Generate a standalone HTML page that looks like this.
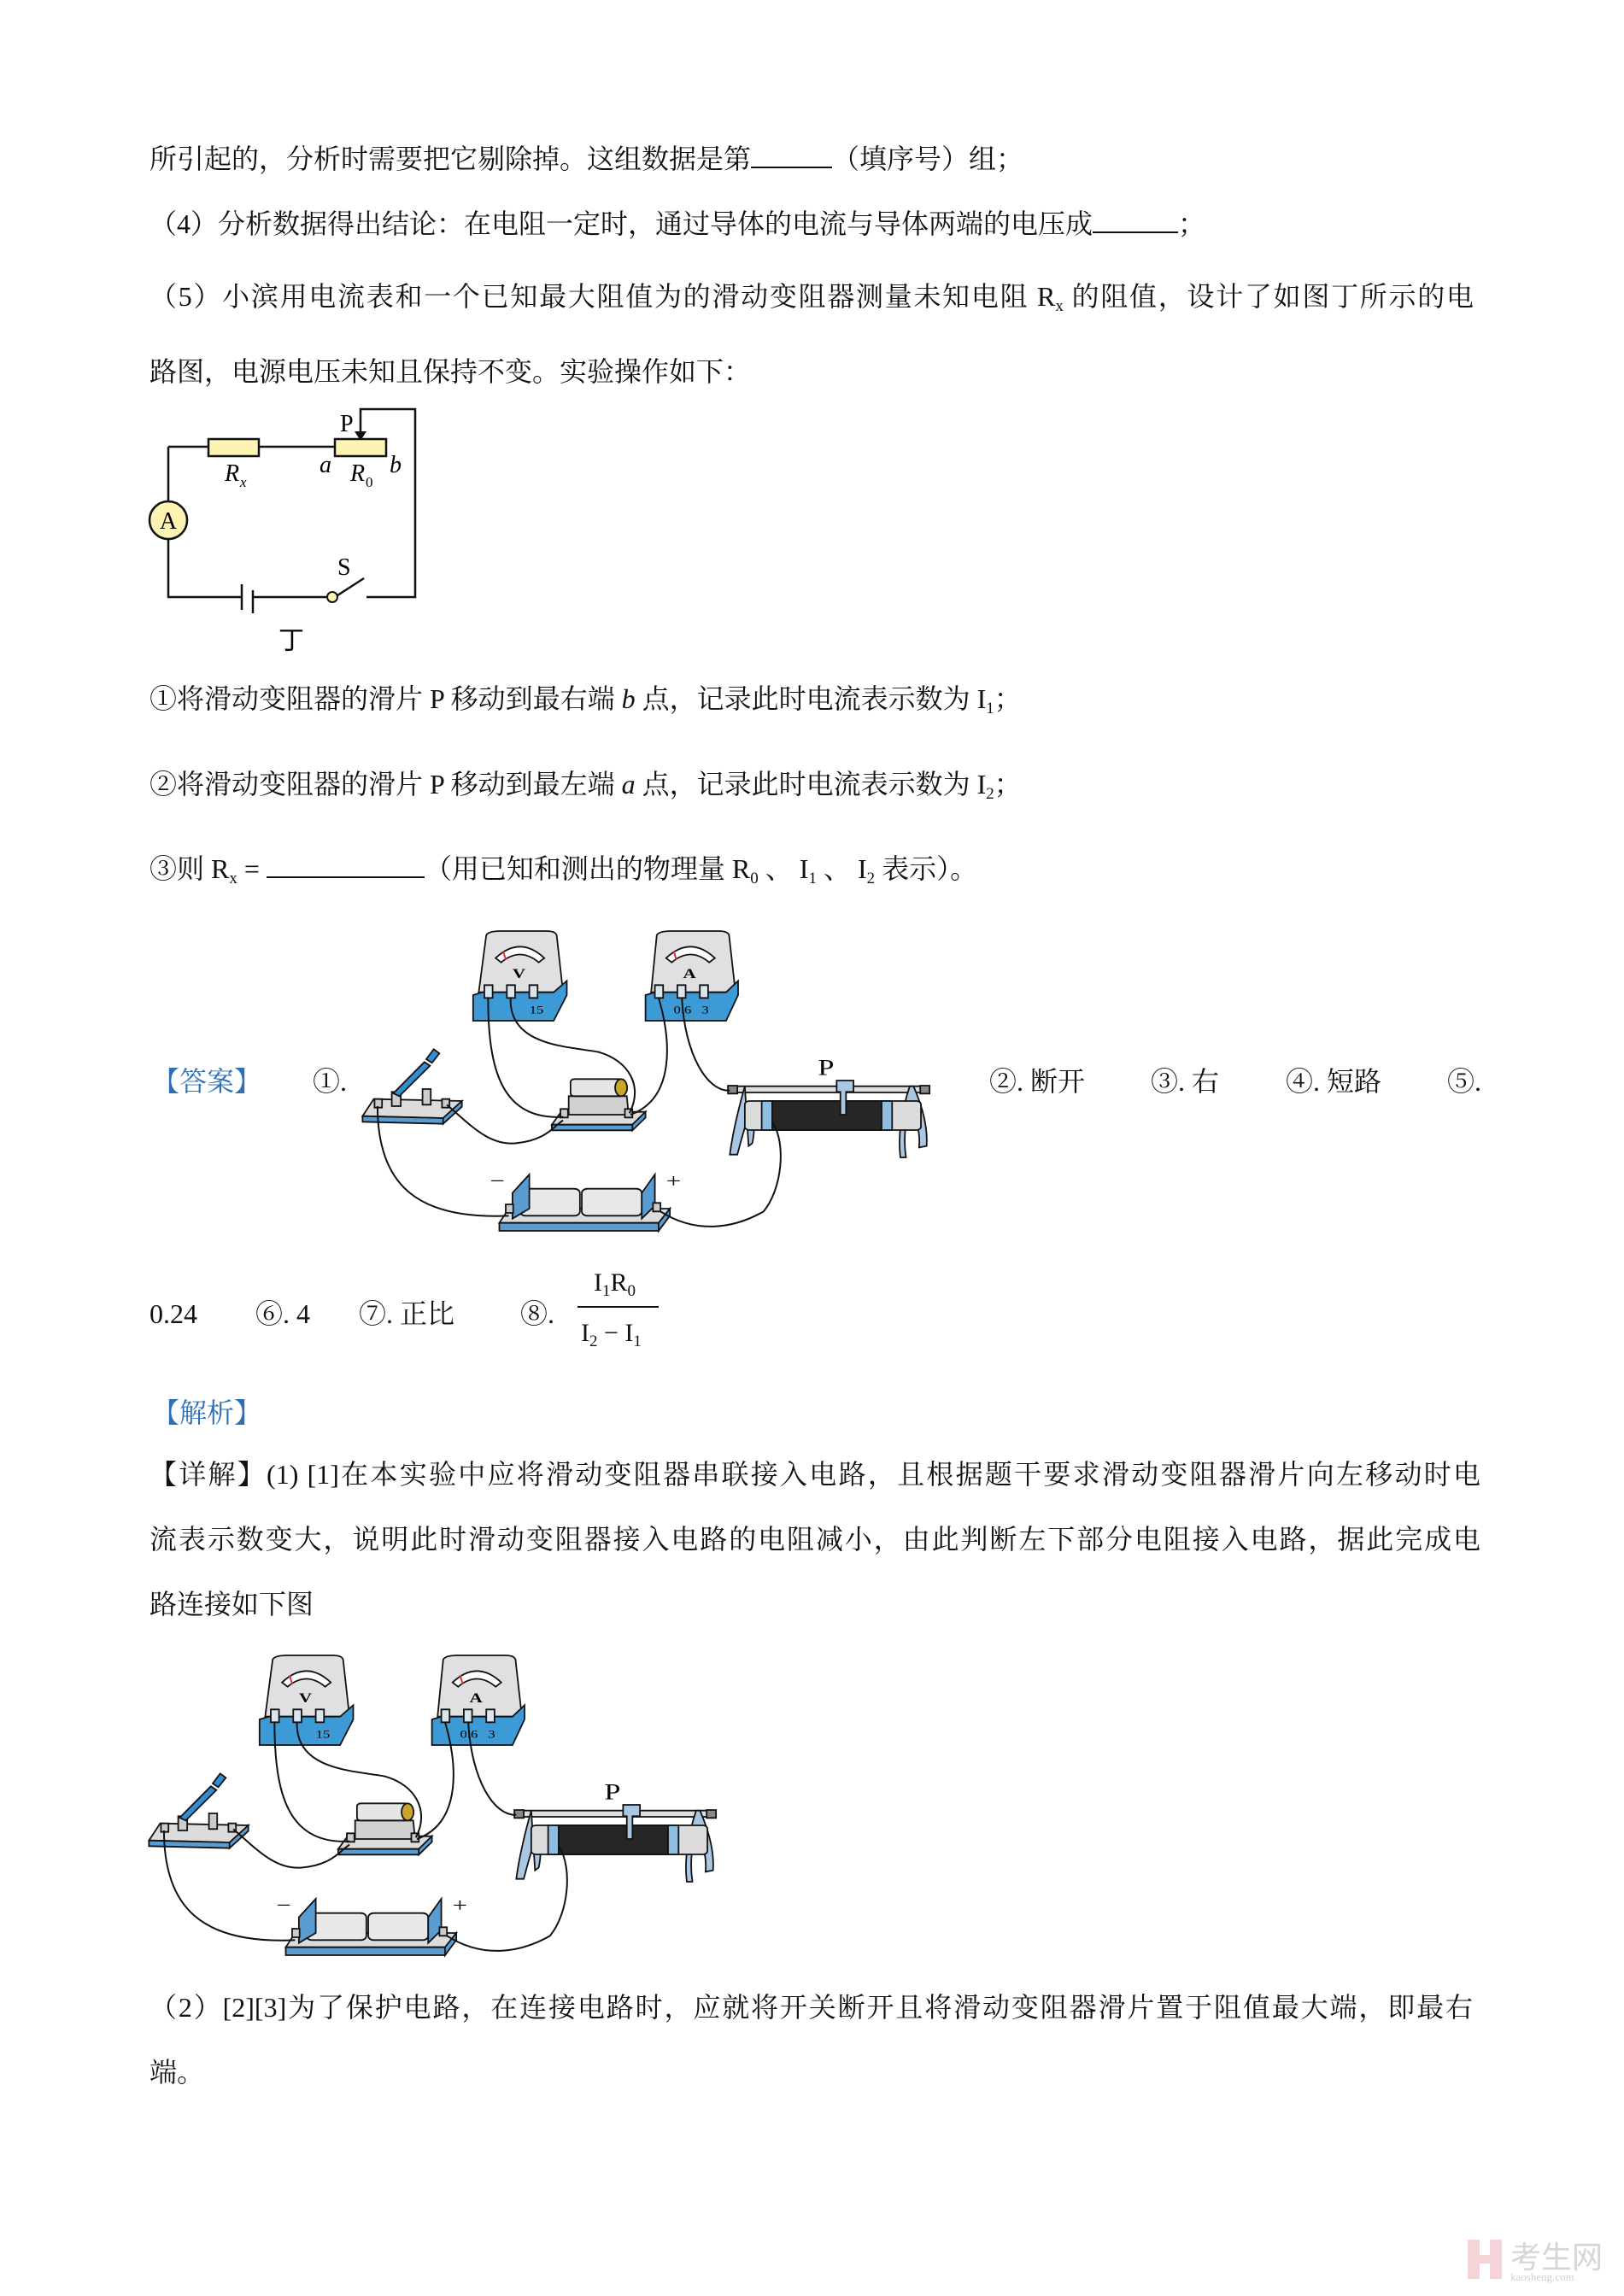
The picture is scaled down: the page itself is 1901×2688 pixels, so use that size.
<!DOCTYPE html>
<html><head><meta charset="utf-8">
<style>
html,body{margin:0;padding:0;background:#fff}
body{width:1901px;height:2688px;position:relative;overflow:hidden;font-family:"Liberation Serif","Noto Serif CJK SC",serif;color:#111}
.l{position:absolute;left:175px;font-size:32px;line-height:40px;white-space:nowrap}
.j{text-align:justify;text-align-last:justify;white-space:normal}
.u{display:inline-block;border-bottom:2px solid #111;height:30px;vertical-align:baseline}
.b{color:#2e6fb5}
sub{font-size:19px;vertical-align:-6px}
i{font-style:italic}
svg text{font-family:"Liberation Serif",serif}
</style></head><body>

<div class="l" style="top:165px">所引起的，分析时需要把它剔除掉。这组数据是第<span class="u" style="width:95px"></span>（填序号）组；</div>
<div class="l" style="top:241px">（4）分析数据得出结论：在电阻一定时，通过导体的电流与导体两端的电压成<span class="u" style="width:100px"></span>；</div>
<div class="l j" style="top:327px;width:1550px">（5）小滨用电流表和一个已知最大阻值为的滑动变阻器测量未知电阻 R<sub>x</sub> 的阻值，设计了如图丁所示的电</div>
<div class="l" style="top:415px">路图，电源电压未知且保持不变。实验操作如下：</div>

<div class="l" style="top:798px">①将滑动变阻器的滑片 P 移动到最右端 <i>b</i> 点，记录此时电流表示数为 I<sub>1</sub>；</div>
<div class="l" style="top:898px">②将滑动变阻器的滑片 P 移动到最左端 <i>a</i> 点，记录此时电流表示数为 I<sub>2</sub>；</div>
<div class="l" style="top:996px">③则 R<sub>x</sub> = <span class="u" style="width:185px"></span>（用已知和测出的物理量 R<sub>0</sub> 、 I<sub>1</sub> 、 I<sub>2</sub> 表示）。</div>

<div class="l b" style="top:1246px;left:178px">【答案】</div>
<div class="l" style="top:1246px;left:366px">①.</div>
<div class="l" style="top:1246px;left:1158px">②. 断开</div>
<div class="l" style="top:1246px;left:1347px">③. 右</div>
<div class="l" style="top:1246px;left:1505px">④. 短路</div>
<div class="l" style="top:1246px;left:1694px">⑤.</div>

<div class="l" style="top:1518px">0.24</div>
<div class="l" style="top:1518px;left:299px">⑥. 4</div>
<div class="l" style="top:1518px;left:420px">⑦. 正比</div>
<div class="l" style="top:1518px;left:609px">⑧.</div>
<div class="l" style="top:1482px;left:695px;font-size:30px">I<sub>1</sub>R<sub>0</sub></div>
<div class="l" style="top:1541px;left:680px;font-size:30px">I<sub>2</sub> − I<sub>1</sub></div>
<div style="position:absolute;left:676px;top:1529px;width:95px;height:2px;background:#111"></div>

<div class="l b" style="top:1634px;left:178px">【解析】</div>
<div class="l j" style="top:1706px;width:1558px">【详解】(1) [1]在本实验中应将滑动变阻器串联接入电路，且根据题干要求滑动变阻器滑片向左移动时电</div>
<div class="l j" style="top:1782px;width:1558px">流表示数变大，说明此时滑动变阻器接入电路的电阻减小，由此判断左下部分电阻接入电路，据此完成电</div>
<div class="l" style="top:1858px">路连接如下图</div>
<div class="l j" style="top:2330px;width:1549px">（2）[2][3]为了保护电路，在连接电路时，应就将开关断开且将滑动变阻器滑片置于阻值最大端，即最右</div>
<div class="l" style="top:2406px">端。</div>

<svg style="position:absolute;left:0;top:0" width="1901" height="2688">
<g stroke="#111" stroke-width="2.5" fill="none">
<path d="M197,523 V587 M197,631 V699 H283 M296,699 H382 M429,699 H486 V479 H422 V512"/>
<path d="M197,523 H244 M303,523 H392"/>
<path d="M283,684 V714 M296,691 V718"/>
<path d="M392,699 L426,677"/>
</g>
<path d="M415,505 L422,516 L429,505 Z" fill="#111"/>
<rect x="244" y="514" width="59" height="20" fill="#fdf3b2" stroke="#111" stroke-width="2.5"/>
<rect x="392" y="514" width="60" height="20" fill="#fdf3b2" stroke="#111" stroke-width="2.5"/>
<ellipse cx="197" cy="609" rx="22" ry="22" fill="#fdf3b2" stroke="#111" stroke-width="2.5"/>
<circle cx="389" cy="699" r="6" fill="#fdf3b2" stroke="#111" stroke-width="2"/>
<text x="197" y="619" font-size="28" text-anchor="middle">A</text>
<text x="398" y="505" font-size="28">P</text>
<text x="263" y="563" font-size="28" font-style="italic">R</text><text x="281" y="570" font-size="17" font-style="italic">x</text>
<text x="374" y="553" font-size="28" font-style="italic">a</text>
<text x="410" y="563" font-size="28" font-style="italic">R</text><text x="428" y="570" font-size="17">0</text>
<text x="456" y="553" font-size="28" font-style="italic">b</text>
<text x="395" y="673" font-size="28">S</text>
<text x="326" y="760" font-size="30" font-family="Noto Serif CJK SC">丁</text>

<defs>
<g id="app">
<g stroke="#111" stroke-width="1.8" vector-effect="non-scaling-stroke">
<path d="M340,30 Q345,15 380,15 L500,15 Q525,15 528,30 L545,230 L320,230 Z" fill="#e0e0e2" vector-effect="non-scaling-stroke"/>
<path d="M365,110 Q430,30 495,110 L480,125 Q430,70 380,125 Z" fill="#fff" vector-effect="non-scaling-stroke"/>
<path d="M305,240 L330,230 L520,230 L555,190 L555,240 L520,330 L305,330 Z" fill="#3c9bd6" vector-effect="non-scaling-stroke"/>
<path d="M795,30 Q800,15 835,15 L960,15 Q985,15 988,30 L1005,230 L780,230 Z" fill="#e0e0e2" vector-effect="non-scaling-stroke"/>
<path d="M820,110 Q885,30 950,110 L935,125 Q885,70 835,125 Z" fill="#fff" vector-effect="non-scaling-stroke"/>
<path d="M765,240 L790,230 L980,230 L1012,190 L1012,240 L980,330 L765,330 Z" fill="#3c9bd6" vector-effect="non-scaling-stroke"/>
<g fill="#d9e6ef">
<rect x="335" y="205" width="22" height="45" vector-effect="non-scaling-stroke"/><rect x="395" y="205" width="22" height="45" vector-effect="non-scaling-stroke"/><rect x="455" y="205" width="22" height="45" vector-effect="non-scaling-stroke"/>
<rect x="790" y="205" width="22" height="45" vector-effect="non-scaling-stroke"/><rect x="850" y="205" width="22" height="45" vector-effect="non-scaling-stroke"/><rect x="910" y="205" width="22" height="45" vector-effect="non-scaling-stroke"/>
</g>
<path d="M40,605 L275,612 L225,672 L10,665 Z" fill="#dcdcdc" vector-effect="non-scaling-stroke"/>
<path d="M10,665 L225,672 L225,692 L10,685 Z M225,672 L275,612 L275,632 L225,692 Z" fill="#5a9bd0" vector-effect="non-scaling-stroke"/>
<rect x="88" y="580" width="24" height="50" fill="#ccc" vector-effect="non-scaling-stroke"/>
<rect x="170" y="570" width="22" height="55" fill="#ccc" vector-effect="non-scaling-stroke"/>
<path d="M92,585 L175,475 L190,488 L108,595 Z" fill="#2f8fd0" vector-effect="non-scaling-stroke"/>
<path d="M180,465 L200,430 L215,445 L195,478 Z" fill="#2f8fd0" vector-effect="non-scaling-stroke"/>
<rect x="42" y="605" width="20" height="30" fill="#ccc" vector-effect="non-scaling-stroke"/><rect x="222" y="605" width="20" height="30" fill="#ccc" vector-effect="non-scaling-stroke"/>
<path d="M540,650 L765,650 L730,695 L515,695 Z" fill="#dcdcdc" vector-effect="non-scaling-stroke"/>
<path d="M515,695 L730,695 L730,715 L515,715 Z M730,695 L765,650 L765,670 L730,715 Z" fill="#5a9bd0" vector-effect="non-scaling-stroke"/>
<path d="M560,595 L560,660 L720,660 L715,595 Z" fill="#d0d0d0" vector-effect="non-scaling-stroke"/>
<rect x="565" y="535" width="140" height="60" rx="10" fill="#e6e6e6" vector-effect="non-scaling-stroke"/>
<ellipse cx="700" cy="565" rx="16" ry="30" fill="#c9a628" vector-effect="non-scaling-stroke"/>
<rect x="538" y="640" width="20" height="30" fill="#ccc" vector-effect="non-scaling-stroke"/><rect x="710" y="640" width="20" height="30" fill="#ccc" vector-effect="non-scaling-stroke"/>
<rect x="990" y="560" width="530" height="22" fill="#ddd" vector-effect="non-scaling-stroke"/>
<path d="M1030,560 Q1000,700 990,800 L1010,800 Q1030,700 1050,620 Q1060,700 1050,760 L1040,770 Z" fill="#a9c7e2" vector-effect="non-scaling-stroke"/>
<path d="M1480,560 Q1520,680 1515,770 L1495,775 Q1500,700 1470,640 Q1450,720 1460,810 L1445,810 Q1435,700 1470,560 Z" fill="#a9c7e2" vector-effect="non-scaling-stroke"/>
<rect x="1030" y="612" width="470" height="102" rx="12" fill="#dcdcdc" vector-effect="non-scaling-stroke"/>
<rect x="1095" y="612" width="320" height="102" fill="#262626" vector-effect="non-scaling-stroke"/>
<rect x="1075" y="612" width="28" height="102" fill="#8fbde0" vector-effect="non-scaling-stroke"/>
<rect x="1395" y="612" width="28" height="102" fill="#8fbde0" vector-effect="non-scaling-stroke"/>
<path d="M1275,540 L1320,540 L1320,580 L1300,580 L1300,660 L1285,660 L1285,580 L1275,580 Z" fill="#a9c7e2" vector-effect="non-scaling-stroke"/>
<rect x="985" y="558" width="25" height="28" fill="#888" vector-effect="non-scaling-stroke"/><rect x="1498" y="558" width="25" height="28" fill="#888" vector-effect="non-scaling-stroke"/>
<path d="M400,990 L830,990 L800,1040 L375,1040 Z" fill="#dcdcdc" vector-effect="non-scaling-stroke"/>
<path d="M375,1040 L800,1040 L800,1068 L375,1068 Z M800,1040 L830,990 L830,1015 L800,1068 Z" fill="#5a9bd0" vector-effect="non-scaling-stroke"/>
<rect x="430" y="920" width="160" height="95" rx="15" fill="#e8e8e8" vector-effect="non-scaling-stroke"/>
<rect x="595" y="920" width="160" height="95" rx="15" fill="#e8e8e8" vector-effect="non-scaling-stroke"/>
<path d="M410,935 L455,870 L455,990 L410,1025 Z" fill="#5a9bd0" vector-effect="non-scaling-stroke"/>
<path d="M755,935 L790,870 L790,980 L755,1025 Z" fill="#5a9bd0" vector-effect="non-scaling-stroke"/>
<rect x="392" y="975" width="20" height="30" fill="#ccc" vector-effect="non-scaling-stroke"/><rect x="785" y="970" width="20" height="30" fill="#ccc" vector-effect="non-scaling-stroke"/>
</g>
<g stroke="#111" stroke-width="2" fill="none">
<path vector-effect="non-scaling-stroke" d="M345,250 C345,500 380,680 545,668"/>
<path vector-effect="non-scaling-stroke" d="M405,250 C400,420 560,420 640,440 C720,470 760,560 722,655"/>
<path vector-effect="non-scaling-stroke" d="M800,250 C830,380 850,600 725,660"/>
<path vector-effect="non-scaling-stroke" d="M862,250 C870,450 930,580 990,575"/>
<path vector-effect="non-scaling-stroke" d="M235,625 C300,700 350,770 420,760 C500,750 520,700 545,680"/>
<path vector-effect="non-scaling-stroke" d="M50,630 C50,900 150,1030 400,1015"/>
<path vector-effect="non-scaling-stroke" d="M805,1000 C900,1080 1000,1060 1080,1000 C1130,920 1140,760 1105,690"/>
</g>
<path d="M385,85 L392,115" stroke="#d33" stroke-width="2" vector-effect="non-scaling-stroke"/>
<path d="M840,85 L847,115" stroke="#d33" stroke-width="2" vector-effect="non-scaling-stroke"/>
</g>
</defs>

<svg x="420" y="1085" width="680" height="375" viewBox="0 0 1550 1125" preserveAspectRatio="none">
<use href="#app"/>
<text x="410" y="180" font-size="48" font-weight="bold">V</text>
<text x="865" y="180" font-size="48" font-weight="bold">A</text>
<text x="455" y="305" font-size="38">15</text>
<text x="840" y="305" font-size="38">0.6</text>
<text x="915" y="305" font-size="38">3</text>
<text x="1225" y="520" font-size="78">P</text>
<text x="350" y="915" font-size="70">−</text>
<text x="820" y="915" font-size="70">+</text>
</svg>
<svg x="170" y="1933" width="680" height="375" viewBox="0 0 1550 1125" preserveAspectRatio="none">
<use href="#app"/>
<text x="410" y="180" font-size="48" font-weight="bold">V</text>
<text x="865" y="180" font-size="48" font-weight="bold">A</text>
<text x="455" y="305" font-size="38">15</text>
<text x="840" y="305" font-size="38">0.6</text>
<text x="915" y="305" font-size="38">3</text>
<text x="1225" y="520" font-size="78">P</text>
<text x="350" y="915" font-size="70">−</text>
<text x="820" y="915" font-size="70">+</text>
</svg>

<rect x="1718" y="2622" width="14" height="46" fill="#f6d3d6"/>
<rect x="1744" y="2622" width="14" height="20" fill="#f6d3d6"/>
<rect x="1732" y="2640" width="26" height="10" fill="#f6d3d6"/>
<rect x="1744" y="2650" width="14" height="18" fill="#f6d3d6"/>
<text x="1768" y="2655" font-size="36" fill="#d6d6d6" font-family="Noto Sans CJK SC">考生网</text>
<text x="1768" y="2670" font-size="13" fill="#d0d0d0" font-family="Liberation Sans">kaosheng.com</text>
</svg>
</body></html>
